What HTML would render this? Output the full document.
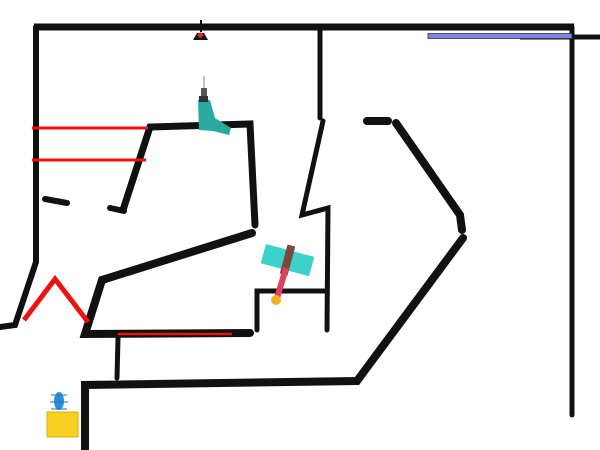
<!DOCTYPE html>
<html><head><meta charset="utf-8"><style>
html,body{margin:0;padding:0;background:#fff;width:600px;height:450px;overflow:hidden}
</style></head><body>
<svg width="600" height="450" viewBox="0 0 600 450" xmlns="http://www.w3.org/2000/svg">
<g fill="none" stroke="#111" stroke-linecap="round" stroke-linejoin="miter">
<line x1="34" y1="27" x2="574" y2="27" stroke-width="7" stroke-linecap="butt"/>
<polyline points="36,27 36,262 15,325 0,327" stroke-width="6"/>
<line x1="572" y1="27" x2="572" y2="415" stroke-width="5"/>
<polyline points="320,27 320,118" stroke-width="5"/>
<polyline points="123,210 150,127 250,124 255,225" stroke-width="7"/>
<line x1="45" y1="199" x2="67" y2="203" stroke-width="6"/>
<line x1="110" y1="208" x2="124" y2="211" stroke-width="6"/>
<polyline points="323,121 302,215 328,208 327,330" stroke-width="5"/>
<line x1="367" y1="121" x2="388" y2="121" stroke-width="8"/>
<polyline points="396,123 460,215 462,230" stroke-width="8"/>
<polyline points="463,238 357,381 85,385 85,450" stroke-width="8"/>
<polyline points="252,233 102,280 85,334 250,333" stroke-width="8"/>
<line x1="118" y1="338" x2="117" y2="378" stroke-width="5"/>
<polyline points="257,330 257,291 327,291" stroke-width="5"/>
<line x1="520" y1="37" x2="600" y2="37" stroke-width="5" stroke-linecap="butt"/>
</g>
<g stroke="#e11" stroke-width="3" fill="none">
<line x1="32" y1="128" x2="148" y2="128"/>
<line x1="32" y1="160" x2="146" y2="160"/>
<line x1="118" y1="334" x2="232" y2="334" stroke-width="2.5"/>
<polyline points="24,320 55,279 88,322" stroke-width="5"/>
</g>
<rect x="428" y="33.5" width="144" height="5" fill="#7f86e6" stroke="#333" stroke-width="0.8"/>
<rect x="200" y="20" width="2" height="12" fill="#111"/>
<path d="M193 40 L208 40 L204 33 L197 33 Z" fill="#111"/>
<circle cx="200.5" cy="35" r="2.5" fill="#e22"/>
<line x1="204" y1="76" x2="204" y2="92" stroke="#888" stroke-width="1"/>
<rect x="201" y="88" width="6" height="8" fill="#555"/>
<path d="M198 100 L210 100 L215 118 L231 128 L229 135 L213 131 L199 130 Z" fill="#2aa9a0"/>
<rect x="199" y="96" width="9" height="6" fill="#333"/>
<g transform="rotate(15 287 262)">
<rect x="262" y="250" width="50" height="20" fill="#3dd1cc"/>
<rect x="283" y="245" width="8" height="30" fill="#7a4b3a"/>
</g>
<line x1="286" y1="268" x2="277" y2="298" stroke="#e04060" stroke-width="6"/>
<circle cx="276" cy="300" r="5" fill="#f5b020"/>
<rect x="47" y="412" width="31" height="25" fill="#f5d020" stroke="#e0b000" stroke-width="1"/>
<ellipse cx="59" cy="401" rx="5" ry="9" fill="#2a8fd8"/>
<g stroke="#2a6fb8" stroke-width="1"><line x1="51" y1="395" x2="67" y2="395"/><line x1="50" y1="402" x2="68" y2="402"/><line x1="51" y1="409" x2="67" y2="409"/></g>
</svg>
</body></html>
